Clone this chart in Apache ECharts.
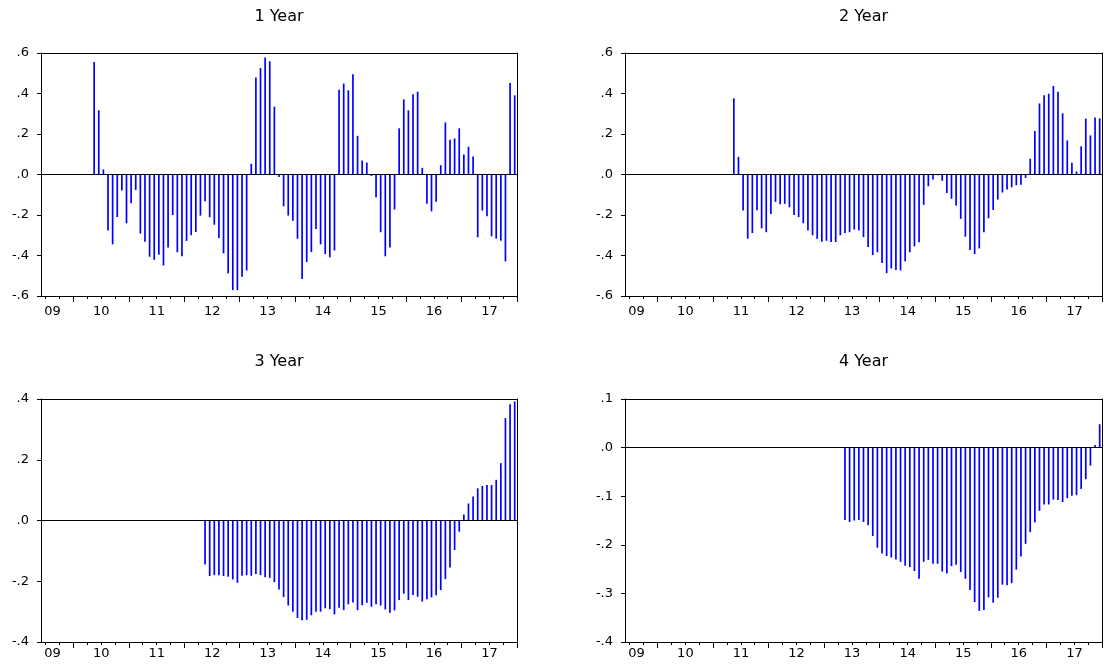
<!DOCTYPE html>
<html>
<head>
<meta charset="utf-8">
<title>1-4 Year</title>
<script src="https://cdn.jsdelivr.net/npm/echarts@6/dist/echarts.min.js"></script>
<style>
  html, body { margin: 0; padding: 0; background: #fff; }
  #chart { width: 1110px; height: 668px; }
</style>
</head>
<body>
<div id="chart"></div>
<script>
// Monthly observations, June 2009 through December 2017
const firstYear = 2009;
const firstMonth = 6;
const monthCount = 103;
const months = [];
for (let i = 0; i < monthCount; i++) {
  const m = firstMonth - 1 + i;
  months.push((firstYear + Math.floor(m / 12)) + '-' + String(m % 12 + 1).padStart(2, '0'));
}

// Year labels on the time axis
const yearLabels = ['09', '10', '11', '12', '13', '14', '15', '16', '17'];

const panelTitles = ['1 Year', '2 Year', '3 Year', '4 Year'];

// 1 Year: first value May 2010
const oneYearStart = '2010-05';
const oneYearValues = [
  0.556, 0.317, 0.025, -0.277, -0.345, -0.21, -0.079, -0.241, -0.142, -0.076,
  -0.292, -0.332, -0.406, -0.421, -0.396, -0.449, -0.36, -0.2, -0.384, -0.404,
  -0.328, -0.30, -0.284, -0.203, -0.132, -0.211, -0.248, -0.314, -0.389, -0.488,
  -0.571, -0.571, -0.505, -0.474, 0.053, 0.479, 0.526, 0.578, 0.559, 0.335,
  -0.012, -0.157, -0.203, -0.228, -0.317, -0.516, -0.432, -0.383, -0.269, -0.345,
  -0.393, -0.409, -0.375, 0.419, 0.449, 0.416, 0.495, 0.191, 0.069, 0.059,
  -0.007, -0.112, -0.285, -0.404, -0.36, -0.173, 0.228, 0.371, 0.317, 0.396,
  0.409, 0.033, -0.144, -0.182, -0.135, 0.046, 0.257, 0.172, 0.178, 0.228,
  0.099, 0.137, 0.089, -0.31, -0.178, -0.206, -0.305, -0.317, -0.327, -0.429,
  0.452, 0.391
];

// 2 Year: first value May 2011
const twoYearStart = '2011-05';
const twoYearValues = [
  0.376, 0.087, -0.178, -0.317, -0.289, -0.177, -0.266, -0.285, -0.195, -0.135,
  -0.147, -0.145, -0.162, -0.2, -0.21, -0.241, -0.276, -0.30, -0.318, -0.332,
  -0.327, -0.333, -0.333, -0.30, -0.289,
  -0.285, -0.272, -0.277, -0.309, -0.358, -0.398, -0.384, -0.437, -0.487, -0.464,
  -0.472, -0.474, -0.429, -0.384, -0.355, -0.335, -0.15, -0.058, -0.025, -0.004,
  -0.031, -0.091, -0.12, -0.153, -0.219, -0.307, -0.373, -0.393, -0.365, -0.285,
  -0.216, -0.175, -0.124, -0.089, -0.074, -0.063, -0.053, -0.051, -0.017, 0.078,
  0.215, 0.351, 0.391, 0.399, 0.437, 0.409, 0.302, 0.168, 0.058, 0.015,
  0.139, 0.276, 0.193, 0.281, 0.277
];

// 3 Year: first value May 2012
const threeYearStart = '2012-05';
const threeYearValues = [
  -0.145, -0.183, -0.180, -0.180, -0.183, -0.185, -0.194, -0.205, -0.182, -0.180,
  -0.182, -0.176, -0.180, -0.187, -0.189, -0.203, -0.227,
  -0.252, -0.28, -0.30, -0.321, -0.328, -0.327, -0.312, -0.30, -0.30, -0.289,
  -0.292, -0.309, -0.287, -0.295, -0.276, -0.27, -0.295, -0.279, -0.271, -0.284,
  -0.276, -0.28, -0.293, -0.304, -0.296, -0.262, -0.241, -0.262, -0.245, -0.251,
  -0.267, -0.259, -0.253, -0.246, -0.229, -0.193, -0.155, -0.097, -0.037, 0.02,
  0.056, 0.079, 0.106, 0.114, 0.117, 0.117, 0.134, 0.189, 0.337, 0.383,
  0.392
];

// 4 Year: first value May 2013
const fourYearStart = '2013-05';
const fourYearValues = [
  -0.149, -0.153, -0.150, -0.149, -0.153, -0.160, -0.182, -0.206, -0.218, -0.223,
  -0.226, -0.230, -0.235, -0.243, -0.246, -0.254, -0.270, -0.235, -0.231, -0.239,
  -0.239, -0.255, -0.259, -0.244, -0.241, -0.256, -0.270, -0.293, -0.318, -0.336,
  -0.334, -0.308, -0.319, -0.309, -0.282, -0.283, -0.279, -0.251, -0.224, -0.198,
  -0.174, -0.154, -0.130, -0.117, -0.117, -0.107, -0.108, -0.112, -0.104, -0.099,
  -0.098, -0.085, -0.065, -0.037, 0.0055, 0.048
];

// Y ranges per panel: [min, max, step]
const yRanges = [
  [-0.6, 0.6, 0.2],
  [-0.6, 0.6, 0.2],
  [-0.4, 0.4, 0.2],
  [-0.4, 0.1, 0.1]
];

const seriesStarts = [oneYearStart, twoYearStart, threeYearStart, fourYearStart];
const seriesValues = [oneYearValues, twoYearValues, threeYearValues, fourYearValues];

// Layout of the four plot areas
const grids = [
  { left: 41, top: 53, width: 476, height: 243 },
  { left: 625, top: 53, width: 477, height: 243 },
  { left: 41, top: 399, width: 476, height: 243 },
  { left: 625, top: 399, width: 477, height: 243 }
];
const labelMargins = [9, 9, 5, 5];

const FONT = '"DejaVu Sans", Verdana, sans-serif';
const BLUE = '#0000ff';
const FRAME = { show: true, onZero: false, lineStyle: { color: '#000', width: 1 } };

function padSeries(start, values) {
  const s = months.indexOf(start);
  return months.map((m, i) => (i >= s && i - s < values.length) ? values[i - s] : null);
}

function fmtY(v) {
  const a = Math.abs(v).toFixed(1).replace(/^0/, '');
  return (v < -1e-9 ? '-' : '') + a;
}

const monthOf = v => v.slice(5);
const yearOf = v => v.slice(2, 4);
// the first, partial year is labelled inside its visible part
const firstLabelMonth = '2009-08';

const option = {
  animation: false,
  backgroundColor: '#fff',
  title: panelTitles.map((t, i) => ({
    text: t,
    left: grids[i].left + grids[i].width / 2,
    top: i < 2 ? 9 : 354,
    textAlign: 'center',
    padding: 0,
    textStyle: { fontSize: 16, fontWeight: 'normal', color: '#000', fontFamily: FONT }
  })),
  grid: grids.map(g => Object.assign({ show: false, containLabel: false }, g)),
  xAxis: [],
  yAxis: [],
  series: []
};

grids.forEach((g, p) => {
  // quarterly ticks
  option.xAxis.push({
    type: 'category', gridIndex: p, data: months, boundaryGap: true, position: 'bottom',
    axisLine: { show: false, onZero: false },
    axisTick: {
      show: true, inside: false, length: 3,
      interval: (i, v) => ['01', '04', '07', '10'].includes(monthOf(v)),
      lineStyle: { color: '#000', width: 1 }
    },
    axisLabel: { show: false },
    splitLine: { show: false }
  });
  // yearly ticks, year labels and the bottom frame line
  option.xAxis.push({
    type: 'category', gridIndex: p, data: months, boundaryGap: true, position: 'bottom',
    axisLine: FRAME,
    axisTick: {
      show: true, inside: false, length: 6,
      interval: (i, v) => monthOf(v) === '01',
      lineStyle: { color: '#000', width: 1 }
    },
    axisLabel: {
      show: true, margin: labelMargins[p],
      interval: (i, v) => v === firstLabelMonth || (monthOf(v) === '06' && yearLabels.includes(yearOf(v))),
      formatter: v => (v === firstLabelMonth ? '{f|' : '{y|') + yearOf(v) + '}',
      rich: {
        f: { fontSize: 13, fontFamily: FONT, color: '#000' },
        y: { fontSize: 13, fontFamily: FONT, color: '#000', padding: [0, 0, 0, 5] }
      }
    },
    splitLine: { show: false }
  });
  // top frame line
  option.xAxis.push({
    type: 'category', gridIndex: p, data: months, boundaryGap: true, position: 'top',
    axisLine: FRAME, axisTick: { show: false }, axisLabel: { show: false }, splitLine: { show: false }
  });
  const r = yRanges[p];
  option.yAxis.push({
    type: 'value', gridIndex: p, min: r[0], max: r[1], interval: r[2], position: 'left',
    axisLine: FRAME,
    axisTick: { show: true, inside: false, length: 4, lineStyle: { color: '#000', width: 1 } },
    axisLabel: { margin: 12, fontSize: 13, fontFamily: FONT, color: '#000', formatter: fmtY },
    splitLine: { show: false }
  });
  // right frame line
  option.yAxis.push({
    type: 'value', gridIndex: p, min: r[0], max: r[1], interval: r[2], position: 'right',
    axisLine: FRAME, axisTick: { show: false }, axisLabel: { show: false }, splitLine: { show: false }
  });
  option.series.push({
    type: 'bar', name: panelTitles[p],
    xAxisIndex: p * 3, yAxisIndex: p * 2,
    data: padSeries(seriesStarts[p], seriesValues[p]),
    barWidth: 1.7,
    itemStyle: { color: BLUE },
    silent: true,
    markLine: {
      silent: true, symbol: 'none', animation: false,
      label: { show: false },
      lineStyle: { color: '#000', width: 1, type: 'solid' },
      data: [{ yAxis: 0 }]
    }
  });
});

const chart = echarts.init(document.getElementById('chart'), null, { renderer: 'canvas' });
chart.setOption(option);
</script>
</body>
</html>
